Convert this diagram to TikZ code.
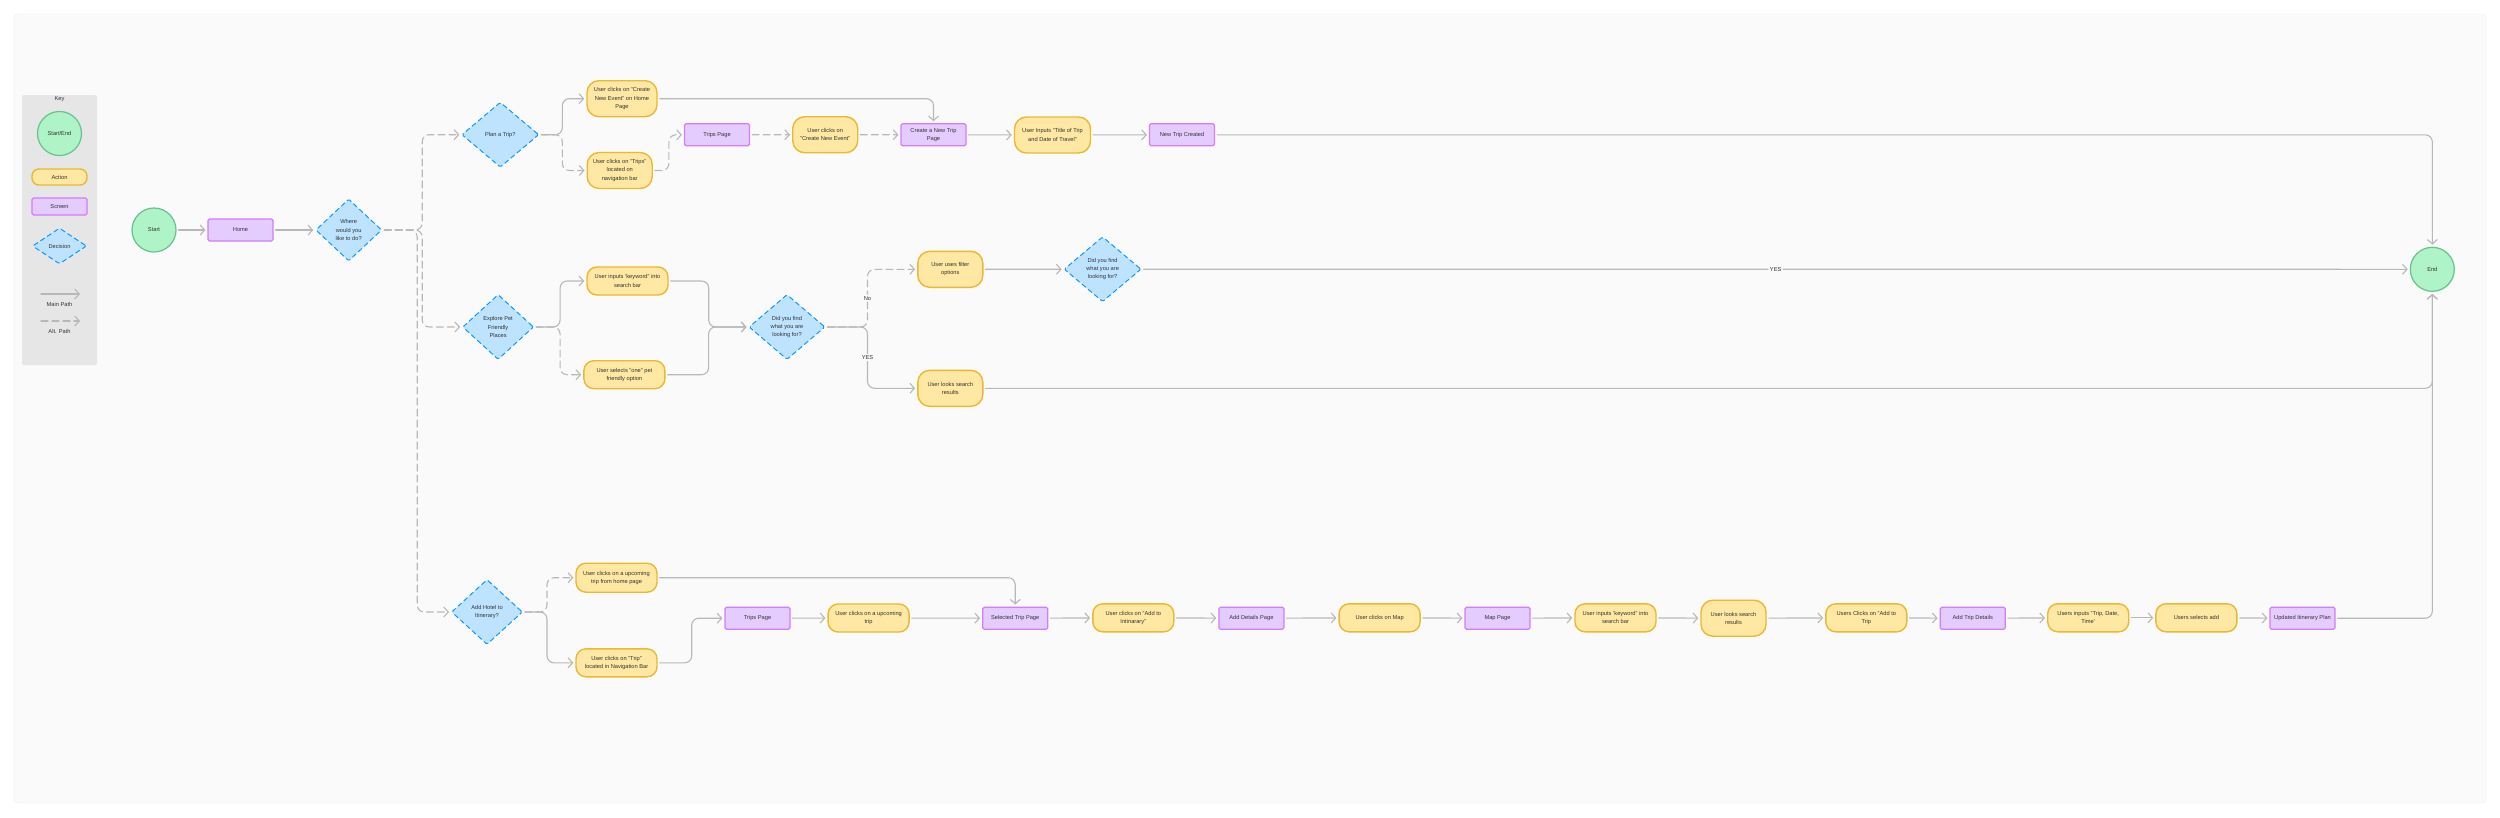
\documentclass[tikz,border=0pt]{standalone}
\usepackage{fontspec}
\setmainfont{Liberation Sans}
\usetikzlibrary{arrows.meta,shapes.geometric}

\definecolor{bgcol}{HTML}{FAFAFA}
\definecolor{bgline}{HTML}{ECECEC}
\definecolor{keycol}{HTML}{E6E6E6}
\definecolor{txtcol}{HTML}{333333}
\definecolor{linecol}{HTML}{B8B8B8}
\definecolor{termfill}{HTML}{AFF4C6}
\definecolor{termdraw}{HTML}{66C28E}
\definecolor{actfill}{HTML}{FFE8A3}
\definecolor{actdraw}{HTML}{E8B931}
\definecolor{scrfill}{HTML}{E4CCFF}
\definecolor{scrdraw}{HTML}{D27CFF}
\definecolor{decfill}{HTML}{BDE3FF}
\definecolor{decdraw}{HTML}{0D99FF}

\tikzset{
  every node/.style={font=\fontsize{5.7}{8.2}\selectfont, text=txtcol, align=center, inner sep=1pt},
  terminal/.style={circle, minimum size=44pt, fill=termfill, draw=termdraw, line width=1.2pt},
  action/.style={rectangle, rounded corners=10pt, fill=actfill, draw=actdraw, line width=1.4pt,
    minimum width=81pt, minimum height=28pt},
  tallaction/.style={action, rounded corners=12pt, minimum width=65pt, minimum height=36pt},
  screen/.style={rectangle, rounded corners=1.5pt, fill=scrfill, draw=scrdraw, line width=1.2pt,
    minimum width=65pt, minimum height=22pt},
  decision/.style={diamond, aspect=1.2, fill=decfill, draw=decdraw, line width=1pt,
    dash pattern=on 5pt off 3pt, rounded corners=1.5pt, minimum width=77pt, minimum height=65pt},
  flow/.style={draw=linecol, line width=1.1pt, ->, rounded corners=7pt, line cap=round,
    shorten >=2pt, shorten <=2pt},
  alt/.style={flow, dash pattern=on 7pt off 4pt},
  lbl/.style={fill=bgcol, inner sep=1.5pt}
}

\begin{document}
\begin{tikzpicture}[x=1pt,y=-1pt,>={Straight Barb[length=4.5pt,width=10pt]}]
\useasboundingbox (0,0) rectangle (2500,817);
\fill[white] (0,0) rectangle (2500,817);
\filldraw[fill=bgcol, draw=bgline, rounded corners=4pt] (14,14) rectangle (2486,803);

% key
\fill[keycol, rounded corners=2pt] (22,95) rectangle (97,365);
\node (keytitle) at (59.5,99.5) {Key};
\node[terminal] (keyterm) at (59.5,133.5) {Start/End};
\node[action, minimum width=55pt, minimum height=16pt, rounded corners=7pt] (keyact) at (59.5,177) {Action};
\node[screen, minimum width=55pt, minimum height=17pt] (keyscr) at (59.5,206.5) {Screen};
\node[decision, minimum width=54pt, minimum height=36pt] (keydec) at (59.5,246) {Decision};
\coordinate (mainA) at (39,294);
\coordinate (mainB) at (82,294);
\draw[flow] (mainA) -- (mainB);
\node (mainlbl) at (59.5,304) {Main Path};
\coordinate (altA) at (39,321);
\coordinate (altB) at (82,321);
\draw[alt] (altA) -- (altB);
\node (altlbl) at (59.5,331) {Alt. Path};

% start
\node[terminal] (start) at (154,230) {Start};
\node[screen] (home) at (240.5,230) {Home};
\node[decision, minimum width=66pt, minimum height=62pt] (where) at (348.7,230) {Where\\would you\\like to do?};

% plan a trip
\node[decision] (plan) at (500.3,134.7) {Plan a Trip?};
\node[tallaction, minimum width=70pt] (cnehome) at (622,98.7) {User clicks on "Create\\New Event" on Home\\Page};
\node[tallaction] (tripsnav) at (619.7,170.5) {User clicks on "Trips"\\located on\\navigation bar};
\node[screen] (tripspage) at (717,134.8) {Trips Page};
\node[tallaction] (clickscne) at (825.2,134.7) {User clicks on\\"Create New Event"};
\node[screen] (createpage) at (933.5,134.8) {Create a New Trip\\Page};
\node[tallaction, minimum width=76pt] (title) at (1052.5,135) {User Inputs "Title of Trip\\and Date of Travel"};
\node[screen] (newtrip) at (1182,134.8) {New Trip Created};

% explore
\node[decision, minimum width=71pt] (explore) at (498.1,327) {Explore Pet\\Friendly\\Places};
\node[action] (keyword) at (627.5,281) {User inputs 'keyword" into\\search bar};
\node[action] (selectone) at (624.4,374.7) {User selects "one" pet\\friendly option};
\node[decision, minimum width=76pt] (found) at (787,327) {Did you find\\what you are\\looking for?};
\node[tallaction] (filter) at (950.3,269.3) {User uses filter\\options};
\node[tallaction] (looks) at (950.3,388.3) {User looks search\\results};
\node[decision] (foundagain) at (1102.6,269.2) {Did you find\\what you are\\looking for?};
\node[terminal] (end) at (2432.3,269.3) {End};

% hotel
\node[decision, minimum width=71pt] (hotel) at (487,612) {Add Hotel to\\Itinerary?};
\node[action, minimum height=29pt] (uphome) at (616.5,577.7) {User clicks on a upcoming\\trip from home page};
\node[action] (tripnav) at (616.5,662.8) {User clicks on "Trip"\\located in Navigation Bar};
\node[screen] (tripsagain) at (757.5,618.2) {Trips Page};
\node[action] (upcoming) at (868.6,618) {User clicks on a upcoming\\trip};
\node[screen] (selected) at (1015.2,618.2) {Selected Trip Page};
\node[action] (additin) at (1133.3,617.8) {User clicks on "Add to\\Intinarary"};
\node[screen] (details) at (1251.4,618.2) {Add Details Page};
\node[action] (clicksmap) at (1379.6,617.8) {User clicks on Map};
\node[screen] (mappage) at (1497.5,618.2) {Map Page};
\node[action] (keywordagain) at (1615.5,617.8) {User inputs 'keyword" into\\search bar};
\node[tallaction] (looksagain) at (1733.5,618.2) {User looks search\\results};
\node[action] (addtrip) at (1866.3,617.8) {Users Clicks on "Add to\\Trip};
\node[screen] (tripdetails) at (1972.7,618.2) {Add Trip Details};
\node[action] (inputs) at (2088.2,617.8) {Users inputs "Trip, Date,\\Time'};
\node[action] (selectsadd) at (2196.4,617.8) {Users selects add};
\node[screen] (updated) at (2302.5,618.2) {Updated Itinerary Plan};

% connectors
\draw[flow] (start) -- (home);
\draw[flow] (home) -- (where);
\draw[alt] (where.east) -- ++(40,0) |- (plan.west);
\draw[alt] (where.east) -- ++(40,0) |- (explore.west);
\draw[alt] (where.east) -- ++(35,0) |- (hotel.west);

\draw[flow] (plan.east) -- ++(23,0) |- (cnehome.west);
\draw[alt] (plan.east) -- ++(23,0) |- (tripsnav.west);
\draw[alt] (tripsnav.east) -- ++(16,0) |- (tripspage.west);
\draw[alt] (tripspage) -- (clickscne);
\draw[alt] (clickscne) -- (createpage);
\draw[flow] (cnehome.east) -| (createpage.north);
\draw[flow] (createpage) -- (title);
\draw[flow] (title) -- (newtrip);
\draw[flow] (newtrip.east) -| (end.north);

\draw[flow] (explore.east) -- ++(26,0) |- (keyword.west);
\draw[alt] (explore.east) -- ++(26,0) |- (selectone.west);
\draw[flow] (keyword.east) -- ++(40,0) |- (found.west);
\draw[flow] (selectone.east) -- ++(43,0) |- (found.west);
\draw[alt] (found.east) -- ++(42,0) |- node[pos=0.25,lbl]{No} (filter.west);
\draw[flow] (found.east) -- ++(42,0) |- node[pos=0.25,lbl]{YES} (looks.west);
\draw[flow] (filter) -- (foundagain);
\draw[flow] (foundagain.east) -- node[lbl]{YES} (end.west);
\draw[flow] (looks.east) -| (end.south);

\draw[alt] (hotel.east) -- ++(24,0) |- (uphome.west);
\draw[flow] (hotel.east) -- ++(24,0) |- (tripnav.west);
\draw[flow] (uphome.east) -| (selected.north);
\draw[flow] (tripnav.east) -- ++(34,0) |- (tripsagain.west);
\draw[flow] (tripsagain) -- (upcoming);
\draw[flow] (upcoming) -- (selected);
\draw[flow] (selected) -- (additin);
\draw[flow] (additin) -- (details);
\draw[flow] (details) -- (clicksmap);
\draw[flow] (clicksmap) -- (mappage);
\draw[flow] (mappage) -- (keywordagain);
\draw[flow] (keywordagain) -- (looksagain);
\draw[flow] (looksagain) -- (addtrip);
\draw[flow] (addtrip) -- (tripdetails);
\draw[flow] (tripdetails) -- (inputs);
\draw[flow] (inputs) -- (selectsadd);
\draw[flow] (selectsadd) -- (updated);
\draw[flow] (updated.east) -| (end.south);
\end{tikzpicture}
\end{document}
